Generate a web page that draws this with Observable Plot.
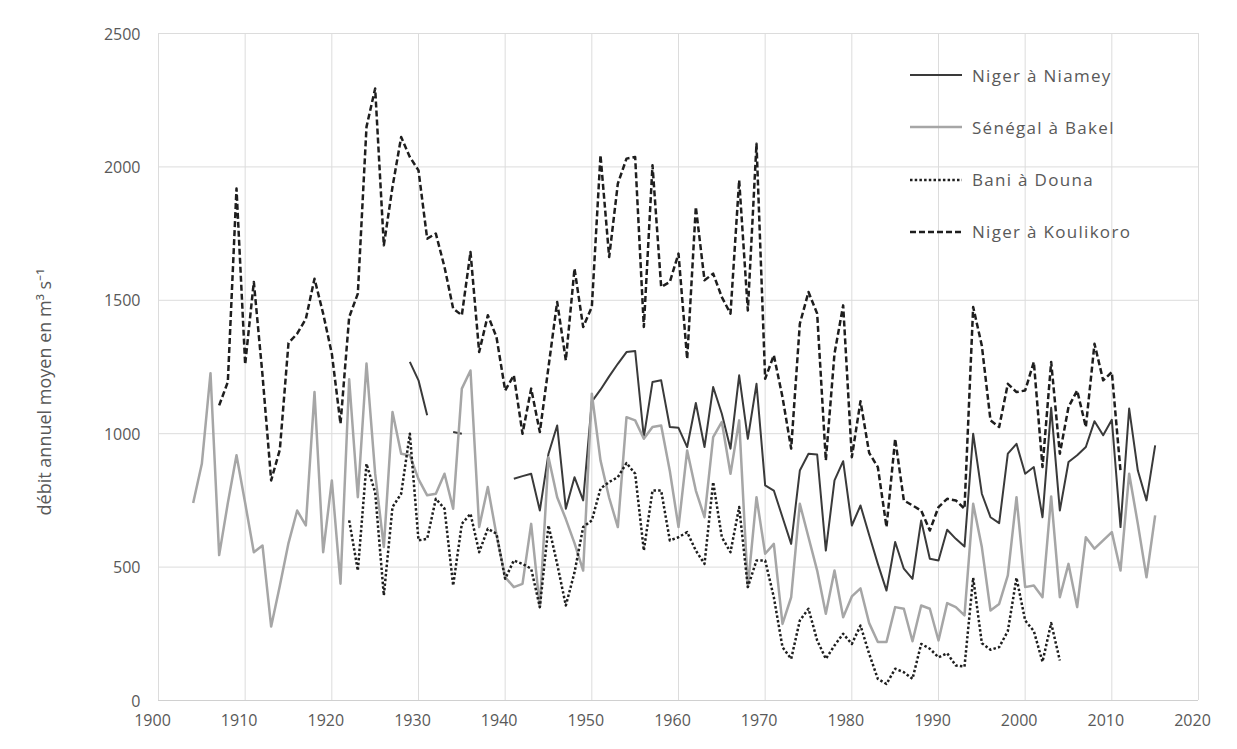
<!DOCTYPE html>
<html><head><meta charset="utf-8">
<script src="https://cdn.jsdelivr.net/npm/d3@7"></script>
<script src="https://cdn.jsdelivr.net/npm/@observablehq/plot@0.6"></script>
<style>
html,body{margin:0;padding:0;background:#fff;}
#wrap{position:relative;width:1237px;height:749px;font-family:"Open Sans",sans-serif;}
#legend{position:absolute;left:0;top:0;}
.item{position:absolute;height:20px;display:flex;align-items:center;white-space:nowrap;font-size:17px;color:#595959;letter-spacing:1.3px;}
.item svg{margin-right:10px;}
</style></head><body><div id="wrap"><div id="legend"></div></div>
<script>
// ---- data (annual mean discharge, m3/s) ----
const xTicks = [1900,1910,1920,1930,1940,1950,1960,1970,1980,1990,2000,2010,2020];
const yTicks = [0,500,1000,1500,2000,2500];
const yTitle = "débit annuel moyen en m³ s⁻¹";

const niameyStart = 1929;
const niamey = [
  1269,1200,1069,null,null,1006,1000,null,null,null,
  null,null,831,841,850,712,925,1031,719,837,
  750,1120,1165,1215,1262,1306,1310,987,1194,1200,
  1025,1022,950,1115,950,1175,1075,944,1219,981,
  1187,806,787,687,587,862,925,922,562,825,
  897,656,731,620,512,412,594,494,456,675,
  531,525,640,606,577,1000,775,687,665,925,
  962,850,875,687,1097,712,894,919,950,1047,
  994,1052,650,1094,862,750,956
];

const bakelStart = 1904;
const bakel = [
  740,887,1227,545,740,919,740,556,581,277,
  430,590,712,656,1156,556,825,438,1204,762,
  1263,850,575,1081,925,919,830,769,775,850,
  719,1169,1237,650,800,620,462,425,437,662,
  350,912,762,680,590,487,1150,900,760,650,
  1062,1050,981,1025,1031,860,650,937,787,687,
  987,1044,850,1050,425,762,550,587,287,387,
  737,612,487,325,487,312,390,420,290,219,
  219,350,344,222,356,344,225,365,350,319,
  737,575,337,362,469,762,425,431,387,765,
  387,512,350,612,569,600,631,487,850,662,
  462,694
];

const dounaStart = 1922;
const douna = [
  675,487,887,780,394,725,775,1000,600,606,
  756,719,431,662,700,556,644,625,456,525,
  512,494,350,656,512,356,480,650,675,794,
  819,837,890,850,562,787,787,600,612,631,
  562,512,819,612,556,725,425,525,525,387,
  200,156,300,344,225,156,206,250,212,281,
  175,81,62,119,106,81,212,194,162,177,
  131,127,460,215,190,200,260,460,300,260,
  145,290,150
];

const koulikoroStart = 1907;
const koulikoro = [
  1106,1194,1919,1260,1569,1220,825,940,1340,1375,
  1430,1581,1450,1300,1037,1437,1525,2150,2294,1706,
  1925,2112,2037,1987,1731,1750,1625,1469,1444,1681,
  1306,1444,1362,1162,1219,1000,1169,1006,1250,1494,
  1275,1619,1400,1475,2044,1662,1937,2031,2037,1400,
  2006,1550,1569,1675,1280,1850,1575,1600,1512,1450,
  1950,1462,2087,1206,1294,1137,944,1412,1531,1450,
  900,1300,1481,912,1122,928,875,650,981,750,
  731,712,637,725,756,750,719,1475,1330,1050,
  1025,1187,1156,1162,1269,875,1269,925,1100,1162,
  1025,1337,1200,1231,860
];

const toRows = (start, vals) => vals.map((v, i) => ({year: start + i, value: v}));

const series = [
  {name: "Niger à Niamey",    rows: toRows(niameyStart, niamey),       stroke: "#3a3a3a", width: 2,   dash: null},
  {name: "Sénégal à Bakel",   rows: toRows(bakelStart, bakel),         stroke: "#a6a6a6", width: 2.5, dash: null},
  {name: "Bani à Douna",      rows: toRows(dounaStart, douna),         stroke: "#1e1e1e", width: 2.5, dash: "2.5 2.2"},
  {name: "Niger à Koulikoro", rows: toRows(koulikoroStart, koulikoro), stroke: "#1e1e1e", width: 2.5, dash: "6 3"}
];

const chart = Plot.plot({
  width: 1237, height: 749,
  marginLeft: 158, marginRight: 39, marginTop: 33, marginBottom: 49,
  style: {fontFamily: "'Open Sans', sans-serif", fontSize: "16px", color: "#595959", background: "#fff"},
  x: {type: "linear", domain: [1900, 2020]},
  y: {type: "linear", domain: [0, 2500]},
  marks: [
    Plot.gridX(xTicks, {stroke: "#dcdcdc", strokeOpacity: 1, strokeWidth: 1}),
    Plot.gridY(yTicks, {stroke: "#dcdcdc", strokeOpacity: 1, strokeWidth: 1}),
    Plot.ruleY([0], {stroke: "#d0d0d0", strokeWidth: 1.2}),
    Plot.axisX(xTicks, {tickSize: 0, tickPadding: 14, label: null, tickFormat: d => String(d), fill: "#595959", fontSize: 16, dx: -6}),
    Plot.axisY(yTicks, {tickSize: 0, tickPadding: 18, label: null, tickFormat: d => String(d), fill: "#595959", fontSize: 16, dy: 1}),
    Plot.text([yTitle], {frameAnchor: "left", textAnchor: "middle", rotate: -90, dx: -113, dy: 25, fontSize: 18, fill: "#595959"}),
    ...series.map(s => Plot.line(s.rows, {
      x: "year", y: "value", stroke: s.stroke, strokeWidth: s.width,
      strokeDasharray: s.dash, strokeLinejoin: "round", strokeLinecap: "butt"
    }))
  ]
});
document.getElementById("wrap").prepend(chart);

// legend inside the plot area (top right)
const legend = document.getElementById("legend");
series.forEach((s, i) => {
  const item = document.createElement("div");
  item.className = "item";
  item.style.left = "910px";
  item.style.top = (65 + i * 52.3) + "px";
  item.innerHTML = `<svg width="52" height="8"><line x1="0" y1="4" x2="52" y2="4" stroke="${s.stroke}" stroke-width="${s.width}" ${s.dash ? `stroke-dasharray="${s.dash}"` : ""}/></svg><span>${s.name}</span>`;
  legend.appendChild(item);
});
</script>
</body></html>
